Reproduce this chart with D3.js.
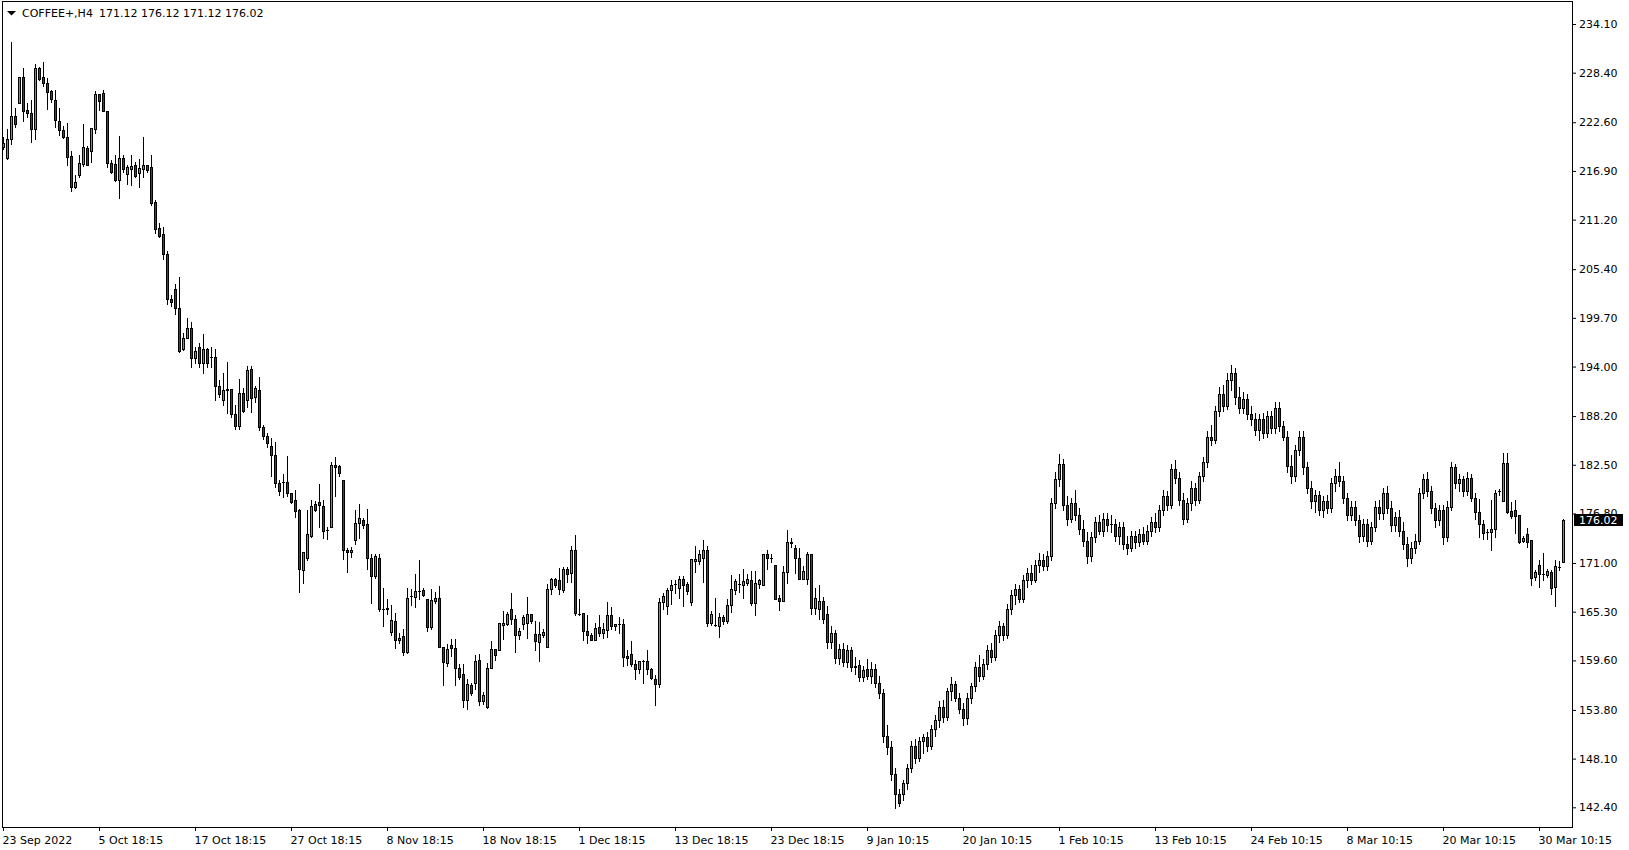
<!DOCTYPE html>
<html><head><meta charset="utf-8">
<script src="https://cdn.jsdelivr.net/npm/d3@7"></script>
<style>
html,body{margin:0;padding:0;background:#fff;overflow:hidden;}
svg{display:block;}
text{font-family:"DejaVu Sans",sans-serif;font-size:11px;fill:#000;}
</style></head><body>
<svg id="c" width="1629" height="850"></svg>
<script>
const open=[219.66,218.37,220.6,223.29,224.81,227.86,224.03,223.64,221.77,228.91,
227.86,227.15,226.22,225.2,222.7,221.69,220.83,218.6,215.05,216.46,
217.71,219.58,219.27,221.77,225.87,225.98,223.87,217.78,217.71,215.83,
218.37,216.57,217.16,217.55,216.69,217.16,217.55,217.35,213.26,210.17,
209.51,207.17,201.86,203.07,200.8,196.0,197.29,198.46,194.95,196.23,
194.44,196.0,195.06,195.06,191.71,190.07,191.24,191.32,188.5,187.06,
190.85,190.07,193.66,190.38,191.24,186.94,185.9,184.68,183.59,180.39,
180.5,180.5,179.14,178.43,177.26,170.16,171.6,174.14,177.85,178.12,
177.73,174.88,175.23,182.53,182.34,180.66,172.58,172.23,173.75,175.74,
176.09,175.51,171.64,169.49,171.64,165.67,165.79,162.94,164.18,161.96,
162.43,160.59,167.11,167.04,167.7,167.82,166.84,163.52,166.57,166.96,
161.18,159.3,161.45,161.1,158.76,158.06,155.01,156.77,156.96,159.62,
154.85,154.15,158.76,160.98,160.79,163.8,163.91,165.67,164.5,162.62,
163.91,164.0,165.08,162.74,161.8,162.62,161.18,167.9,169.07,168.99,
167.82,170.35,169.85,172.5,165.08,165.16,163.06,162.62,162.04,163.52,
162.86,163.21,164.97,163.64,163.87,163.91,160.13,160.4,159.23,158.64,
159.58,159.58,158.64,157.47,156.89,166.49,165.98,167.82,168.52,168.13,
169.07,168.52,166.45,171.26,171.26,171.53,172.5,163.99,163.8,163.68,
164.62,164.23,166.14,167.82,168.52,168.48,168.71,168.99,166.33,168.6,
168.48,172.03,171.6,170.82,166.96,166.53,169.97,173.4,172.78,171.64,
169.18,169.1,172.03,165.79,
165.6,166.5,165.0,161.8,162.8,159.9,160.9,159.4,160.8,158.8,
159.1,157.6,158.6,157.8,158.6,157.0,155.8,150.8,149.5,146.3,
144.0,143.9,145.3,147.0,149.6,148.2,150.2,150.6,149.6,151.6,
152.6,154.2,153.0,156.0,156.8,155.2,153.9,152.8,155.2,156.6,
158.8,157.8,159.2,160.8,160.0,162.6,163.6,162.6,165.6,167.2,
168.0,166.8,169.0,169.8,169.0,170.8,171.4,170.6,171.8,178.0,
180.8,182.6,177.8,176.2,178.0,176.6,175.0,173.6,171.8,174.0,
175.8,174.8,176.2,175.6,175.6,174.2,175.2,173.2,172.8,174.2,
173.4,174.4,173.6,174.8,175.8,175.2,177.2,178.8,177.8,182.0,
181.0,178.4,176.2,178.0,179.8,178.4,181.2,182.8,185.8,185.4,
188.8,190.8,189.4,192.4,193.2,190.4,189.2,190.2,188.4,187.8,
186.6,187.8,186.2,188.2,186.8,189.2,187.0,185.8,182.4,181.2,
184.2,185.8,182.2,179.8,178.2,179.0,177.2,178.2,177.4,180.4,
181.2,180.6,178.6,176.6,177.6,176.0,174.2,175.6,173.6,175.2,
177.6,176.8,179.2,177.4,175.4,176.4,174.8,173.2,171.6,172.8,
173.6,179.2,180.8,179.4,177.4,176.0,177.2,174.0,177.6,182.2,
180.4,180.8,179.4,181.0,178.6,177.0,175.62,174.64,174.64,175.03,
179.45,178.27,182.65,177.1,177.26,176.6,173.59,174.45,173.67,169.37,
170.74,169.76,169.57,169.92,168.2,170.55,171.12];
const high=[220.83,221.8,231.96,224.23,227.9,228.95,224.81,225.2,229.42,229.03,
229.61,227.82,226.37,226.37,224.23,222.12,222.47,219.19,216.38,218.72,
222.39,219.81,221.88,226.26,225.87,226.37,223.87,218.17,218.72,220.99,
218.72,217.63,218.72,217.9,218.25,220.87,217.63,218.72,213.49,210.76,
210.29,207.52,202.32,203.65,204.47,197.87,199.63,199.24,196.31,196.7,
197.8,196.12,196.31,196.0,192.41,193.19,194.52,191.32,189.48,192.49,
191.47,194.05,194.05,191.71,192.8,187.2,186.2,185.66,185.11,180.7,
181.4,183.51,179.14,179.53,177.38,172.23,177.19,178.36,178.24,180.23,
178.43,175.23,182.88,183.39,182.49,180.66,172.81,172.89,177.26,177.89,
176.25,177.38,172.11,172.03,172.11,168.05,166.84,166.06,165.2,162.86,
163.33,168.13,168.01,169.77,171.33,168.13,166.84,167.93,167.58,168.28,
161.18,161.49,162.16,162.16,159.15,159.15,157.47,157.0,160.2,160.4,
155.87,159.34,161.84,160.98,164.03,165.36,165.28,167.43,164.89,163.44,
164.97,167.04,165.08,164.23,164.11,163.33,168.52,169.3,169.3,170.47,
170.55,170.55,172.97,174.26,166.84,165.16,164.97,162.82,164.03,164.97,
164.03,166.49,165.87,163.91,164.62,164.5,160.79,161.84,159.7,159.58,
159.7,160.79,158.76,157.94,166.96,167.5,168.13,168.99,168.99,169.46,
169.46,168.79,171.41,172.97,172.58,173.67,172.97,165.36,166.96,165.2,
164.89,166.77,169.57,169.18,169.77,170.28,169.77,170.04,170.08,169.18,
172.03,172.5,172.03,170.82,167.31,170.63,174.85,173.87,173.09,172.7,
170.63,172.31,172.11,168.13,
168.4,167.0,166.0,163.6,163.2,161.5,161.6,161.4,161.2,160.0,
159.6,159.0,159.8,159.4,159.2,157.8,156.3,152.0,150.2,147.0,
144.5,145.6,147.5,150.2,150.4,150.6,151.0,151.2,152.0,153.2,
154.8,155.0,156.4,157.6,157.2,155.8,154.6,155.8,157.0,159.4,
160.2,159.8,161.4,161.6,163.2,164.2,164.0,166.2,167.8,168.6,
168.4,169.6,170.4,170.8,171.4,172.2,172.0,172.4,178.6,181.6,
183.8,183.2,178.8,178.6,179.6,177.4,176.0,174.6,174.6,176.4,
176.6,176.8,176.8,176.6,176.2,175.8,175.8,174.2,174.8,174.8,
175.0,175.2,175.4,176.4,176.8,177.8,179.6,179.4,182.6,183.0,
181.6,179.2,178.6,180.6,180.4,181.6,183.4,186.4,187.2,189.4,
191.6,191.8,193.2,194.2,193.8,191.6,191.0,190.8,189.4,188.6,
188.4,188.6,188.8,188.8,189.8,189.8,187.6,186.4,183.6,184.8,
186.4,186.4,182.8,180.6,179.6,179.4,178.8,179.0,181.0,182.0,
182.8,181.2,179.2,178.2,178.2,176.6,176.2,176.2,175.8,178.2,
178.4,179.8,180.0,178.2,177.0,177.2,175.8,174.0,173.4,174.4,
179.8,181.4,181.6,180.0,178.0,177.8,177.8,178.2,182.8,182.6,
181.4,181.2,181.6,181.4,179.2,178.5,176.01,175.03,178.43,179.52,
179.72,183.82,183.82,178.16,178.35,176.6,174.14,175.15,173.67,170.16,
171.4,172.19,170.35,170.16,171.33,171.25,176.12];
const low=[219.46,218.33,220.09,222.08,224.81,222.78,223.25,220.32,220.67,227.54,
226.84,224.11,225.01,222.08,221.14,220.71,217.59,214.58,214.93,216.22,
217.47,217.63,217.98,221.38,224.03,223.87,217.32,216.69,215.75,213.76,
216.73,215.4,215.29,216.18,215.05,216.22,216.81,212.94,209.66,209.2,
206.54,201.31,201.04,200.14,195.69,195.92,197.29,193.97,194.36,193.97,
193.19,193.89,193.89,190.14,190.46,189.48,188.58,188.12,186.67,186.67,
188.7,189.28,188.7,189.87,186.55,185.5,184.6,181.2,179.84,178.98,
178.67,178.9,177.97,176.4,167.62,168.67,171.33,174.06,177.11,175.23,
173.94,173.79,175.23,178.86,181.17,171.48,169.96,171.72,173.28,173.98,
175.12,170.24,166.33,169.3,165.4,163.6,165.0,162.58,161.02,161.65,
160.24,160.48,166.06,165.87,166.76,167.15,163.05,163.25,166.33,161.18,
156.69,158.96,160.12,156.69,157.47,154.15,153.92,155.56,156.3,154.35,
154.46,154.07,158.68,159.66,160.79,162.16,163.72,163.91,160.59,162.08,
163.33,162.27,164.0,160.83,159.5,162.35,161.18,167.35,168.2,167.35,
167.62,168.79,168.79,164.89,164.89,162.04,161.65,161.96,161.96,162.47,
162.23,162.35,163.29,163.13,162.82,158.96,159.11,158.96,157.39,158.17,
156.96,158.06,157.47,154.39,156.5,165.59,165.0,166.18,167.43,166.96,
165.94,167.35,166.06,169.97,170.94,168.79,163.6,163.76,163.6,162.35,
163.84,164.03,165.28,167.35,167.62,166.96,168.4,166.06,164.89,168.13,
168.48,170.28,171.13,166.84,165.55,166.53,168.68,172.89,169.85,169.18,
169.18,168.6,165.08,165.08,
164.5,164.0,161.0,161.0,159.3,159.2,159.0,158.8,158.4,158.0,
157.2,157.2,157.4,157.0,156.5,155.2,150.0,148.6,145.6,142.3,
142.6,143.2,144.6,146.5,147.6,147.8,148.8,149.0,149.2,150.8,
151.8,152.4,152.6,155.0,154.8,153.4,152.0,152.2,154.6,156.0,
157.2,157.4,158.6,159.4,159.6,161.8,162.0,162.2,165.0,166.2,
166.4,166.4,168.2,168.6,168.8,170.0,170.2,170.2,171.4,177.4,
180.0,177.2,175.4,175.8,176.0,174.4,173.0,171.0,171.2,173.4,
174.4,174.2,174.8,174.6,173.6,173.2,172.6,172.0,172.4,172.8,
173.0,173.2,173.2,174.2,174.6,174.8,176.6,177.2,177.4,180.4,
177.8,175.6,175.8,177.2,177.8,178.0,180.6,182.2,184.8,185.0,
188.2,188.8,189.0,191.2,189.6,188.6,188.6,187.8,187.2,186.0,
185.4,185.6,185.8,186.2,186.2,186.4,185.4,181.6,180.4,180.6,
183.6,181.4,179.2,177.4,177.0,176.6,176.4,176.8,177.0,179.4,
180.0,178.0,176.0,176.0,175.4,173.4,173.6,173.0,173.2,174.8,
176.2,176.2,176.8,174.8,174.8,174.2,172.6,170.6,171.0,172.2,
173.2,178.6,178.8,176.8,175.2,175.4,173.2,173.6,177.2,179.8,
179.4,178.8,179.0,178.2,176.2,174.1,173.86,173.86,172.5,174.06,
178.94,178.27,176.87,176.21,174.53,173.36,173.47,172.89,168.4,168.98,
168.2,169.06,169.37,167.42,165.98,170.16,171.12];
const close=[220.13,220.6,223.29,222.35,227.86,223.95,223.72,221.77,228.91,227.7,
227.15,226.1,225.36,222.82,221.65,220.91,218.56,215.05,215.56,217.78,
219.66,217.63,221.88,225.87,225.05,223.87,217.78,216.81,215.83,218.37,
217.08,217.32,217.47,216.34,217.24,217.55,216.96,213.18,210.13,209.23,
207.13,201.86,201.58,200.8,195.84,197.29,198.46,194.95,195.8,194.44,
196.0,194.36,195.06,191.71,190.77,191.24,191.32,188.43,187.06,190.85,
188.82,193.58,190.34,191.43,186.94,185.9,185.0,183.59,180.39,179.45,
180.5,179.22,178.16,177.11,170.24,172.23,174.34,177.73,177.19,177.81,
174.77,174.88,182.53,182.18,181.48,172.58,172.23,172.5,175.74,176.21,
175.43,171.6,169.49,171.8,165.59,165.67,165.59,164.3,161.96,162.27,
160.59,166.96,167.11,167.7,167.74,167.27,163.52,166.65,166.92,161.18,
159.42,160.98,161.06,158.76,157.66,155.01,156.81,155.79,159.5,154.85,
155.6,158.76,160.98,160.28,164.03,163.95,165.08,164.5,162.62,163.01,
164.62,165.08,164.23,161.84,162.66,162.9,168.01,169.07,168.44,167.98,
170.35,169.69,172.58,165.16,165.0,163.02,162.62,162.04,163.44,162.86,
163.33,164.97,163.64,163.91,163.87,160.01,159.93,159.15,158.64,159.58,
159.58,158.64,157.59,156.89,166.49,167.19,167.82,168.4,168.52,169.18,
168.4,167.74,171.41,171.41,172.03,172.5,163.99,165.08,163.8,164.62,
164.23,166.14,168.01,168.87,168.52,168.87,169.07,166.33,168.68,168.99,
172.03,171.64,171.6,166.84,166.57,169.89,173.4,173.36,171.64,169.18,
170.04,172.0,165.79,166.96,
166.5,164.5,161.8,162.8,159.9,160.9,159.4,160.8,158.8,158.9,
157.6,158.5,157.8,158.6,157.0,155.8,150.8,149.5,146.3,143.9,
142.9,145.2,147.0,149.6,148.2,150.2,150.6,149.6,151.6,152.6,
154.2,153.0,156.0,156.8,155.2,153.9,152.8,155.2,156.6,158.8,
157.8,159.2,160.8,160.0,162.6,163.6,162.6,165.6,167.2,168.0,
166.8,169.0,169.8,169.0,170.8,171.4,170.6,171.8,178.0,180.8,
182.6,177.8,176.2,178.0,176.6,175.0,173.6,171.8,174.0,175.8,
174.8,176.2,175.4,175.6,174.2,175.2,173.2,172.8,174.2,173.4,
174.4,173.6,174.8,175.8,175.2,177.2,178.8,177.8,182.0,181.0,
178.4,176.2,178.0,179.8,178.4,181.2,182.8,185.8,185.4,188.8,
190.8,189.4,192.4,193.2,190.4,189.2,190.2,188.4,187.8,186.6,
187.8,186.2,188.2,186.8,189.2,187.0,185.8,182.4,181.2,184.2,
185.8,182.2,179.8,178.2,179.0,177.2,178.2,177.4,180.4,181.2,
180.6,178.6,176.6,177.6,176.0,174.2,175.6,173.6,175.2,177.6,
176.8,179.2,177.4,175.4,176.4,174.8,173.2,171.6,172.8,173.6,
179.2,180.8,179.4,177.4,176.0,177.2,174.0,177.6,182.2,180.4,
180.8,179.4,181.0,178.6,177.0,175.6,174.53,174.64,175.03,179.25,
179.45,182.65,176.99,176.48,176.48,173.47,173.98,173.47,169.3,169.96,
169.76,169.76,170.04,168.12,170.63,170.55,176.02];

const priceTicks=[234.10,228.40,222.60,216.90,211.20,205.40,199.70,194.00,188.20,182.50,176.80,171.00,165.30,159.60,153.80,148.10,142.40];
const timeTickBars=[0,24,48,72,96,120,144,168,192,216,240,264,288,312,336,360,384];
const timeTickLabels=["23 Sep 2022","5 Oct 18:15","17 Oct 18:15","27 Oct 18:15","8 Nov 18:15","18 Nov 18:15","1 Dec 18:15","13 Dec 18:15","23 Dec 18:15","9 Jan 10:15","20 Jan 10:15","1 Feb 10:15","13 Feb 10:15","24 Feb 10:15","8 Mar 10:15","20 Mar 10:15","30 Mar 10:15"];
const symbolName="COFFEE+,H4";
const lastBar=[171.12,176.12,171.12,176.02];
const totalBars=391;

const BULL="#22cc22", BEAR="#dd0000";
const svg=d3.select("#c");
svg.append("rect").attr("width",1629).attr("height",850).attr("fill","#fff");

const y=d3.scaleLinear().domain([142.40,234.10]).range([807.3,24]);
const x=d3.scaleLinear().domain([0,totalBars-1]).range([3,1563]);

// frame
svg.append("rect").attr("x",2.5).attr("y",1.5).attr("width",1570).attr("height",826)
  .attr("fill","none").attr("stroke","#000").attr("stroke-width",1);

// axes
const yAxis=d3.axisRight(y).tickValues(priceTicks).tickFormat(d3.format(".2f")).tickSize(4).tickSizeOuter(0).tickPadding(3);
const gy=svg.append("g").attr("transform","translate(1572,0)").call(yAxis);
gy.select(".domain").remove();
gy.selectAll("text").style("font-family","DejaVu Sans").style("font-size","11px").attr("fill","#000");

const xAxis=d3.axisBottom(x).tickValues(timeTickBars).tickFormat((d,i)=>timeTickLabels[i]).tickSize(4).tickSizeOuter(0).tickPadding(5);
const gx=svg.append("g").attr("transform","translate(0,827)").call(xAxis);
gx.select(".domain").remove();
gx.selectAll("text").attr("text-anchor","start").attr("x",-1).style("font-family","DejaVu Sans").style("font-size","11px").attr("fill","#000");

// candles
const idx=d3.range(open.length);
const g=svg.append("g");
idx.forEach(i=>{
  const cx=Math.round(x(i));
  const o=open[i],h=high[i],l=low[i],c=close[i];
  const yH=Math.round(y(h)), yL=Math.round(y(l));
  const yT=Math.round(y(Math.max(o,c))), yB=Math.round(y(Math.min(o,c)));
  g.append("line").attr("x1",cx+0.5).attr("x2",cx+0.5).attr("y1",yH).attr("y2",yL+1)
    .attr("stroke","#000").attr("stroke-width",1);
  if(yB-yT<1){
    g.append("line").attr("x1",cx-1).attr("x2",cx+2).attr("y1",yT+0.5).attr("y2",yT+0.5)
      .attr("stroke","#000").attr("stroke-width",1);
  } else {
    g.append("rect").attr("x",cx-0.5).attr("y",yT+0.5).attr("width",2).attr("height",yB-yT)
      .attr("fill",c>=o?BULL:BEAR).attr("stroke","#000").attr("stroke-width",1);
  }
});

// title
svg.append("path").attr("d","M7,11 L16,11 L11.5,15.5 Z").attr("fill","#000");
svg.append("text").attr("x",22).attr("y",17).text(symbolName);
svg.append("text").attr("x",99).attr("y",17).text(lastBar.map(v=>v.toFixed(2)).join(" "));

// last price tag
const yp=Math.round(y(lastBar[3]));
svg.append("rect").attr("x",1574).attr("y",yp-6).attr("width",49).attr("height",12).attr("fill","#000");
svg.append("text").attr("x",1579).attr("y",yp).attr("dy","0.36em").attr("fill","#fff").style("fill","#fff").text(lastBar[3].toFixed(2));
</script>
</body></html>
